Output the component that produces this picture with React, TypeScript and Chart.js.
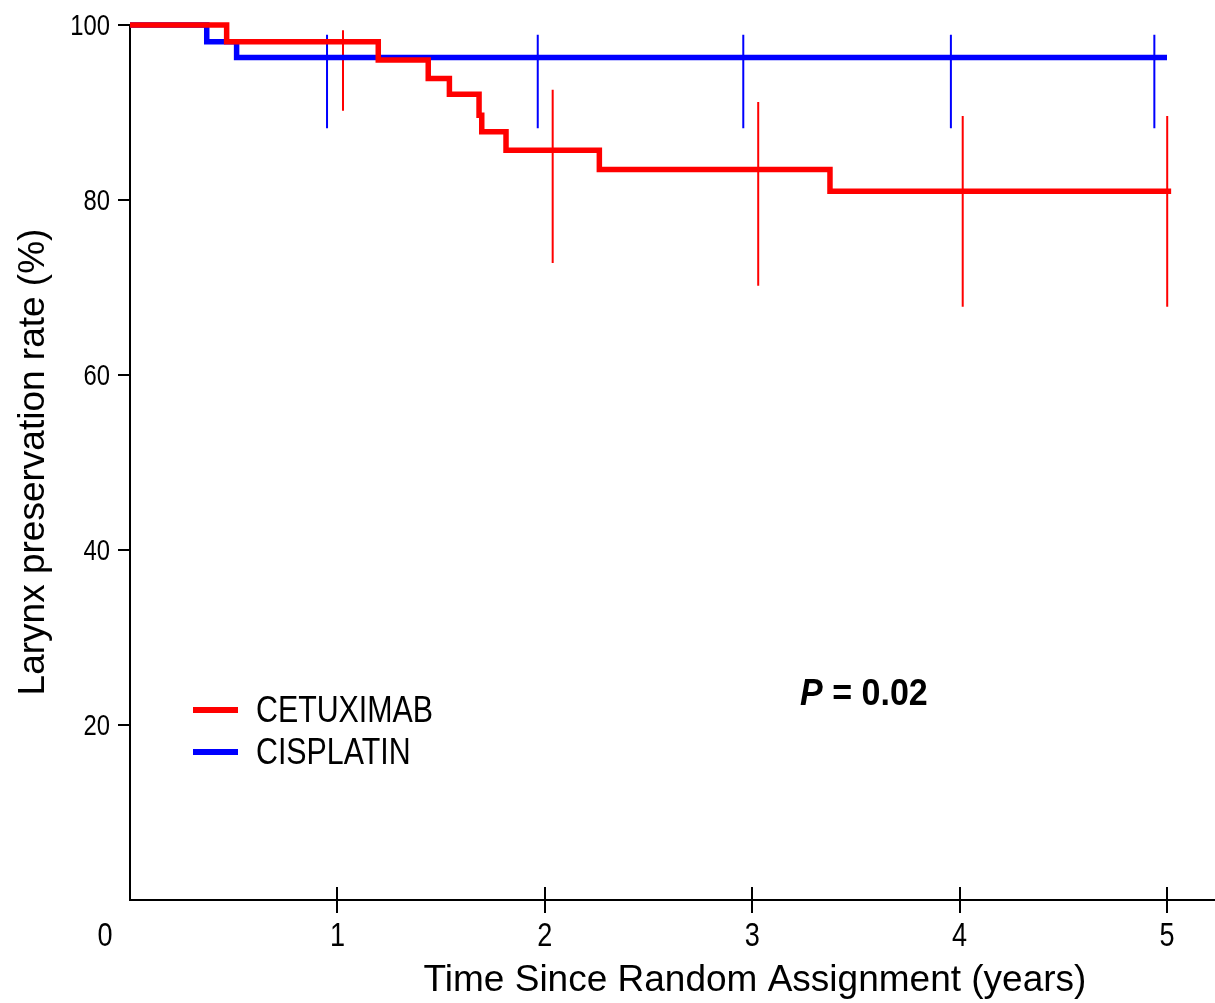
import React, { useEffect, useRef } from "react";
import { Chart, registerables } from "chart.js";

Chart.register(...registerables);

// ---- Data ----
const cetuximabTimes = [0, 0.466, 1.197, 1.438, 1.54, 1.683, 1.696, 1.813, 2.263, 3.375, 5.02];
const cetuximabRates = [100, 98.1, 96.0, 93.9, 92.1, 89.7, 87.8, 85.7, 83.5, 81.0, 81.0];

const cisplatinTimes = [0, 0.37, 0.514, 5.0];
const cisplatinRates = [100, 98.1, 96.3, 96.3];

const cetuximabBarTimes = [1.027, 2.038, 3.029, 4.015, 5.001];
const cetuximabBarLow = [90.2, 72.8, 70.2, 67.8, 67.8];
const cetuximabBarHigh = [99.4, 92.6, 91.2, 89.6, 89.6];

const cisplatinBarTimes = [0.95, 1.966, 2.957, 3.958, 4.939];
const cisplatinBarLow = [88.2, 88.2, 88.2, 88.2, 88.2];
const cisplatinBarHigh = [98.9, 98.9, 98.9, 98.9, 98.9];

const xTickValues = [1, 2, 3, 4, 5];
const yTickValues = [20, 40, 60, 80, 100];

const seriesLabels = ["CETUXIMAB", "CISPLATIN"];
const xTitle = "Time Since Random Assignment (years)";
const yTitle = "Larynx preservation rate (%)";
const pLabel = "P";
const pValueText = " = 0.02";

const RED = "#ff0000";
const BLUE = "#0000ff";
const FONT = '"Liberation Sans", Arial, sans-serif';
const NARROW = 0.82;

function stepPoints(times: number[], rates: number[]) {
  return times.map((t, i) => ({ x: t, y: rates[i] }));
}

function barPoints(times: number[], lows: number[], highs: number[]) {
  const pts: { x: number; y: number | null }[] = [];
  times.forEach((t, i) => {
    pts.push({ x: t, y: lows[i] });
    pts.push({ x: t, y: highs[i] });
    pts.push({ x: t, y: null });
  });
  return pts;
}

// draw text with an optional horizontal condensing factor
function drawText(
  ctx: CanvasRenderingContext2D,
  text: string,
  x: number,
  y: number,
  font: string,
  align: "left" | "center" | "right",
  sx: number = NARROW
) {
  ctx.save();
  ctx.font = font;
  ctx.textBaseline = "alphabetic";
  ctx.textAlign = "left";
  const w = ctx.measureText(text).width * sx;
  let left = x;
  if (align === "center") left = x - w / 2;
  else if (align === "right") left = x - w;
  ctx.translate(left, y);
  ctx.scale(sx, 1);
  ctx.fillText(text, 0, 0);
  ctx.restore();
  return w;
}

const extrasPlugin = {
  id: "extras",
  afterDraw(chart: any) {
    const ctx = chart.ctx as CanvasRenderingContext2D;
    const xs = chart.scales.x;
    const ys = chart.scales.y;
    const area = chart.chartArea;
    ctx.save();
    // upward parts of x tick marks
    ctx.strokeStyle = "#000";
    ctx.lineWidth = 2;
    xs.ticks.forEach((t: any) => {
      const px = Math.round(xs.getPixelForValue(t.value));
      ctx.beginPath();
      ctx.moveTo(px, area.bottom);
      ctx.lineTo(px, area.bottom - 13);
      ctx.stroke();
    });
    ctx.fillStyle = "#000";

    // tick labels from the scales
    xs.ticks.forEach((t: any) => {
      drawText(ctx, String(t.value), xs.getPixelForValue(t.value), 946, `33px ${FONT}`, "center");
    });
    ys.ticks.forEach((t: any) => {
      drawText(ctx, String(t.value), area.left - 20, ys.getPixelForValue(t.value) + 10, `29px ${FONT}`, "right");
    });
    // origin label
    drawText(ctx, "0", xs.getPixelForValue(0) - 25, 946, `33px ${FONT}`, "center");

    // x title
    drawText(ctx, xTitle, 755, 991, `37px ${FONT}`, "center", 1);

    // y title
    ctx.save();
    ctx.translate(44, 462);
    ctx.rotate(-Math.PI / 2);
    drawText(ctx, yTitle, 0, 0, `37px ${FONT}`, "center", 1);
    ctx.restore();

    // legend
    const legendColors = [RED, BLUE];
    const legendY = [710, 752];
    const legendBase = [722, 764];
    legendColors.forEach((c, i) => {
      ctx.strokeStyle = c;
      ctx.lineWidth = 6;
      ctx.beginPath();
      ctx.moveTo(193, legendY[i]);
      ctx.lineTo(238, legendY[i]);
      ctx.stroke();
      ctx.fillStyle = "#000";
      drawText(ctx, seriesLabels[i], 256, legendBase[i], `37px ${FONT}`, "left");
    });

    // P value
    const pw = drawText(ctx, pLabel, 800, 705, `italic bold 37px ${FONT}`, "left", 0.92);
    drawText(ctx, pValueText, 800 + pw, 705, `bold 37px ${FONT}`, "left", 0.92);
    ctx.restore();
  },
};

export default function App() {
  const canvasRef = useRef<HTMLCanvasElement | null>(null);

  useEffect(() => {
    if (!canvasRef.current) return;
    const chart = new Chart(canvasRef.current, {
      type: "line",
      data: {
        datasets: [
          {
            label: seriesLabels[0],
            data: stepPoints(cetuximabTimes, cetuximabRates),
            borderColor: RED,
            borderWidth: 5.5,
            stepped: "before",
            pointRadius: 0,
            fill: false,
            clip: 10,
          } as any,
          {
            label: seriesLabels[1],
            data: stepPoints(cisplatinTimes, cisplatinRates),
            borderColor: BLUE,
            borderWidth: 5.5,
            stepped: "before",
            pointRadius: 0,
            fill: false,
            clip: 10,
          } as any,
          {
            label: seriesLabels[0] + " CI",
            data: barPoints(cetuximabBarTimes, cetuximabBarLow, cetuximabBarHigh),
            borderColor: RED,
            borderWidth: 2,
            pointRadius: 0,
            spanGaps: false,
            fill: false,
            clip: 10,
          } as any,
          {
            label: seriesLabels[1] + " CI",
            data: barPoints(cisplatinBarTimes, cisplatinBarLow, cisplatinBarHigh),
            borderColor: BLUE,
            borderWidth: 2,
            pointRadius: 0,
            spanGaps: false,
            fill: false,
            clip: 10,
          } as any,
        ],
      },
      options: {
        animation: false,
        responsive: false,
        devicePixelRatio: 1,
        layout: { padding: { top: 25, right: 0, left: 0, bottom: 0 } },
        plugins: {
          legend: { display: false },
          tooltip: { enabled: false },
        },
        scales: {
          x: {
            type: "linear",
            min: 0,
            max: 5 * (1215 - 130) / (1167 - 130),
            afterFit: (s: any) => {
              s.height = 103;
            },
            afterBuildTicks: (s: any) => {
              s.ticks = xTickValues.map((v) => ({ value: v }));
            },
            grid: {
              drawOnChartArea: false,
              drawTicks: true,
              tickLength: 13,
              color: "#000",
              lineWidth: 2,
            },
            border: { display: true, color: "#000", width: 2 },
            ticks: { display: false, autoSkip: false },
          },
          y: {
            type: "linear",
            min: 0,
            max: 100,
            afterFit: (s: any) => {
              s.width = 130;
            },
            afterBuildTicks: (s: any) => {
              s.ticks = yTickValues.map((v) => ({ value: v }));
            },
            grid: {
              drawOnChartArea: false,
              drawTicks: true,
              tickLength: 12,
              color: "#000",
              lineWidth: 2,
            },
            border: { display: true, color: "#000", width: 2 },
            ticks: { display: false, autoSkip: false },
          },
        },
      } as any,
      plugins: [extrasPlugin],
    });
    return () => chart.destroy();
  }, []);

  return (
    <div style={{ position: "absolute", left: 0, top: 0, width: 1215, height: 1003, background: "#fff" }}>
      <canvas ref={canvasRef} width={1215} height={1003} style={{ display: "block" }} />
    </div>
  );
}
